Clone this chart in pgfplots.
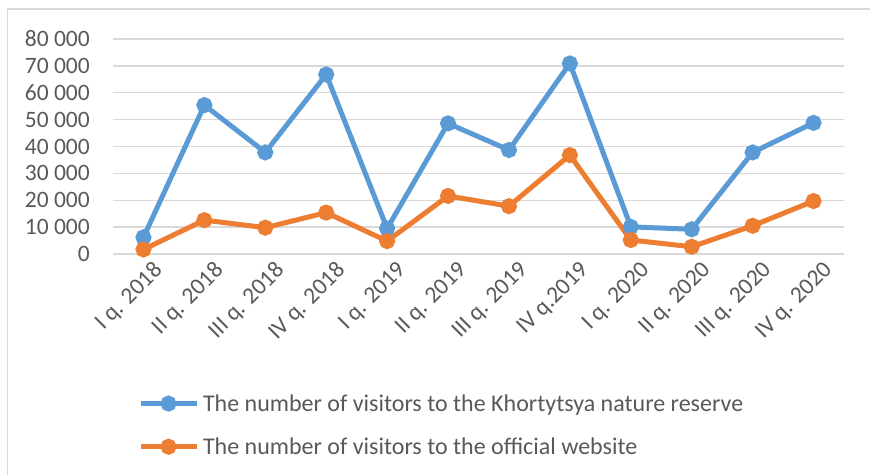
\documentclass[border=0pt]{standalone}
\usepackage{pgfplots}
\pgfplotsset{compat=1.18}
\usepackage{fontspec}
\setmainfont{Carlito}
\definecolor{cblue}{HTML}{5B9BD5}
\definecolor{corange}{HTML}{ED7D31}
\definecolor{cgrid}{HTML}{D9D9D9}
\definecolor{ctext}{HTML}{595959}
\begin{document}
\begin{tikzpicture}[x=1pt,y=1pt]
\path[use as bounding box] (0,0) rectangle (870,475);
\draw[cgrid, line width=1.2pt] (7.5,0) -- (7.5,466) -- (870,466);
\begin{axis}[
  at={(113pt,221pt)}, anchor=south west,
  scale only axis, width=731pt, height=215pt,
  xmin=-0.5, xmax=11.5, ymin=0, ymax=80000,
  scaled y ticks=false,
  axis line style={draw=none}, tick style={draw=none},
  ymajorgrids, grid style={cgrid, line width=1.3pt},
  xtick={0,...,11},
  xticklabels={I q. 2018, II q. 2018, III q. 2018, IV q. 2018, I q. 2019, II q. 2019, III q. 2019, IV q.2019, I q. 2020, II q. 2020, III q. 2020, IV q. 2020},
  xticklabel style={rotate=45, anchor=north east, inner sep=0pt, font=\fontsize{23.5}{28}\selectfont, text=ctext, xshift=2pt, yshift=-10pt},
  ytick={0,10000,20000,30000,40000,50000,60000,70000,80000},
  yticklabels={0,10 000,20 000,30 000,40 000,50 000,60 000,70 000,80 000},
  yticklabel style={anchor=east, inner sep=0pt, xshift=-23pt, font=\fontsize{23.5}{28}\selectfont, text=ctext},
  legend image code/.code={\draw[mark repeat=2,mark phase=2,#1] plot coordinates {(0pt,0pt)(28pt,0pt)(56pt,0pt)};},
  legend style={at={(0.034,-0.796)}, anchor=west, draw=none, fill=none, inner sep=0pt,
    font=\fontsize{24}{29}\selectfont, text=ctext, row sep=25pt, column sep=4pt,
    nodes={inner sep=0pt}},
  legend cell align=left,
  clip=false,
]
\addplot[cblue, line width=5pt, mark=*, mark size=5.5pt, mark options={solid}] coordinates {
(0,6200) (1,55400) (2,37800) (3,66800) (4,9500) (5,48600) (6,38700) (7,70900) (8,10100) (9,9200) (10,37800) (11,48800)};
\addlegendentry{The number of visitors to the Khortytsya nature reserve}
\addplot[corange, line width=5pt, mark=*, mark size=5.5pt, mark options={solid}] coordinates {
(0,1700) (1,12600) (2,9800) (3,15400) (4,4800) (5,21600) (6,17800) (7,36800) (8,5200) (9,2700) (10,10500) (11,19700)};
\addlegendentry{The number of visitors to the official website}
\end{axis}
\end{tikzpicture}
\end{document}
